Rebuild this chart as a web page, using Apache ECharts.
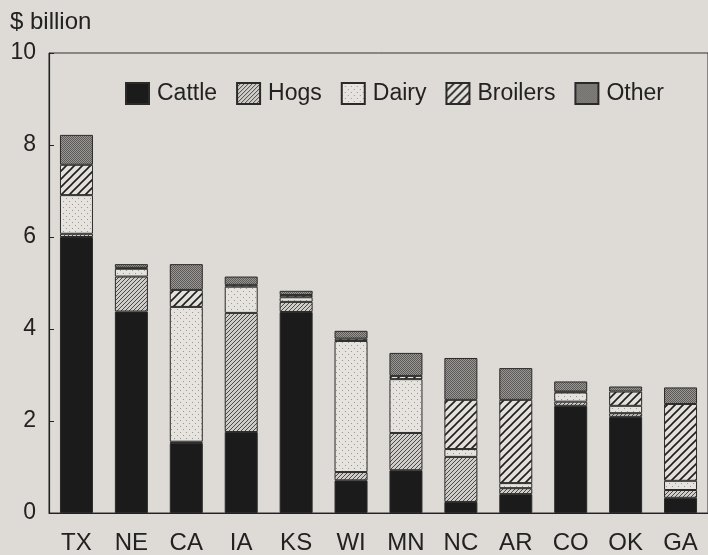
<!DOCTYPE html>
<html>
<head>
<meta charset="utf-8">
<script src="https://cdn.jsdelivr.net/npm/echarts@6/dist/echarts.min.js"></script>
<style>
html,body{margin:0;padding:0;background:#dedad5;}
#c{width:708px;height:555px;}
</style>
</head>
<body>
<div id="c"></div>
<script>
const states = ['TX','NE','CA','IA','KS','WI','MN','NC','AR','CO','OK','GA'];
const cattle   = [6.00, 4.38, 1.52, 1.76, 4.37, 0.71, 0.93, 0.24, 0.41, 2.33, 2.09, 0.33];
const hogs     = [0.07, 0.76, 0.03, 2.59, 0.22, 0.18, 0.81, 0.98, 0.13, 0.09, 0.08, 0.17];
const dairy    = [0.84, 0.17, 2.93, 0.57, 0.10, 2.85, 1.17, 0.17, 0.11, 0.20, 0.16, 0.20];
const broilers = [0.66, 0.02, 0.37, 0.04, 0.05, 0.05, 0.07, 1.07, 1.81, 0.02, 0.31, 1.67];
const other    = [0.65, 0.08, 0.56, 0.18, 0.09, 0.17, 0.50, 0.91, 0.69, 0.22, 0.11, 0.36];
const yTicks = [0, 2, 4, 6, 8, 10];

function hatch(size, bg, fg, lw) {
  const c = document.createElement('canvas');
  c.width = size; c.height = size;
  const g = c.getContext('2d');
  g.fillStyle = bg; g.fillRect(0, 0, size, size);
  g.strokeStyle = fg; g.lineWidth = lw;
  g.beginPath();
  g.moveTo(0, size); g.lineTo(size, 0);
  g.moveTo(-size/2, size/2); g.lineTo(size/2, -size/2);
  g.moveTo(size/2, size*1.5); g.lineTo(size*1.5, size/2);
  g.stroke();
  return c;
}
function dots(size, bg, fg, r) {
  const c = document.createElement('canvas');
  c.width = size; c.height = size;
  const g = c.getContext('2d');
  g.fillStyle = bg; g.fillRect(0, 0, size, size);
  g.fillStyle = fg;
  g.fillRect(0, 0, r, r);
  g.fillRect(size/2, size/2, r, r);
  return c;
}
const patHogs = {image: hatch(4, '#d0cdc8', '#4a4a4a', 1), repeat: 'repeat'};
const patBroilers = {image: hatch(8, '#e4e1dc', '#1e1e1e', 1.6), repeat: 'repeat'};
const patDairy = {image: dots(6, '#e6e3de', '#9a9792', 1), repeat: 'repeat'};
const patOther = {image: dots(2, '#9a9794', '#5c5a58', 1), repeat: 'repeat'};

const FONT = 'Liberation Sans, Arial, Helvetica, sans-serif';
const chart = echarts.init(document.getElementById('c'));
function mk(name, data, color) {
  return {
    name: name, type: 'bar', stack: 'all', data: data, barWidth: 33,
    itemStyle: {color: color, borderColor: '#2a2a2a', borderWidth: 1},
    emphasis: {disabled: true}
  };
}
chart.setOption({
  backgroundColor: '#dedad5',
  animation: false,
  textStyle: {fontFamily: FONT},
  title: {
    text: '$ billion', left: 5, top: 5,
    textStyle: {fontSize: 24, fontWeight: 'normal', color: '#222', fontFamily: FONT}
  },
  legend: {
    left: 120, top: 77, itemWidth: 23, itemHeight: 21, itemGap: 19,
    icon: 'rect',
    textStyle: {fontSize: 23, color: '#222', fontFamily: FONT, padding: [0, 0, 0, 3]},
    data: ['Cattle','Hogs','Dairy','Broilers','Other']
  },
  grid: {
    left: 49, right: -1, top: 53, bottom: 42, containLabel: false,
    show: true, borderColor: '#333', borderWidth: 1, backgroundColor: 'transparent'
  },
  xAxis: {
    type: 'category', data: states,
    axisLine: {lineStyle: {color: '#222', width: 1.2}},
    axisTick: {show: false},
    axisLabel: {fontSize: 24, color: '#222', margin: 18}
  },
  yAxis: {
    type: 'value', min: 0, max: 10, interval: 2,
    axisLine: {show: true, lineStyle: {color: '#222', width: 1.2}},
    axisTick: {show: true, inside: true, length: 5, lineStyle: {color: '#222'}},
    splitLine: {show: false},
    axisLabel: {fontSize: 23, color: '#222', margin: 13,
      formatter: function (v) { return yTicks.indexOf(v) >= 0 ? String(v) : ''; }}
  },
  series: [
    mk('Cattle', cattle, '#1b1b1b'),
    mk('Hogs', hogs, patHogs),
    mk('Dairy', dairy, patDairy),
    mk('Broilers', broilers, patBroilers),
    mk('Other', other, patOther)
  ]
});
</script>
</body>
</html>
